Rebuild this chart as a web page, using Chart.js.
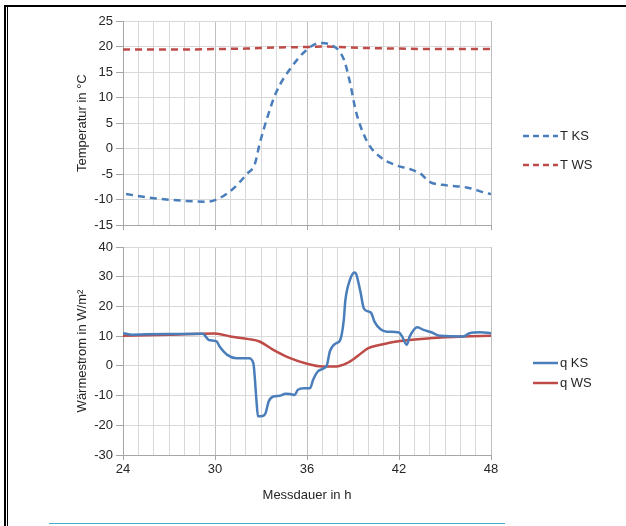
<!DOCTYPE html>
<html>
<head>
<meta charset="utf-8">
<script src="https://cdn.jsdelivr.net/npm/chart.js@4.4.0/dist/chart.umd.min.js"></script>
<style>
  body { margin: 0; background: #fff; }
  #wrap { position: relative; width: 626px; height: 526px; overflow: hidden; }
  #temp { position: absolute; left: 0; top: 0; }
  #flux { position: absolute; left: 0; top: 236px; }
  .frameTop { position: absolute; left: 4px; top: 5px; width: 622px; height: 2px; background: #000; }
  .frameL1 { position: absolute; left: 4px; top: 5px; width: 2px; height: 521px; background: #000; }
  .frameL2 { position: absolute; left: 7px; top: 7px; width: 1px; height: 519px; background: #000; }
  .teal { position: absolute; left: 49px; top: 523px; width: 456px; height: 1px; background: #4bacc6; }
</style>
</head>
<body>
<div id="wrap">
  <canvas id="temp" width="626" height="236"></canvas>
  <canvas id="flux" width="626" height="290"></canvas>
  <div class="frameTop"></div>
  <div class="frameL1"></div>
  <div class="frameL2"></div>
  <div class="teal"></div>
</div>
<script>
// Temperatur KS / WS
var tksHours = [24.2, 26, 27.9, 29.5, 30.3, 31.2, 32.1, 32.6, 32.9, 33.4, 34.0, 34.9, 36.0, 36.85, 37.5, 38.4, 38.8, 39.2, 39.9, 40.8, 41.85, 42.7, 43.4, 44.0, 45.1, 46.4, 47.7, 48];
var tksValues = [-8.9, -9.7, -10.2, -10.4, -9.7, -7.8, -4.9, -3.0, 0.8, 6.0, 11.1, 15.6, 19.4, 20.7, 20.4, 17.5, 13.0, 7.2, 1.5, -1.7, -3.3, -4.0, -4.9, -6.5, -7.2, -7.6, -8.7, -8.9];
var twsHours = [24, 28, 30, 32, 34, 36, 37, 38, 40, 42, 44, 48];
var twsValues = [19.4, 19.4, 19.5, 19.6, 19.8, 19.9, 20.0, 19.9, 19.7, 19.6, 19.5, 19.5];

// Waermestrom KS / WS
var qksHours = [24, 24.6, 25.5, 27, 29.2, 29.6, 30.1, 30.3, 30.8, 31.4, 32.2, 32.5, 32.7, 32.8, 33.15, 33.3, 33.5, 33.8, 34.2, 34.6, 34.9, 35.2, 35.4, 35.8, 36.2, 36.4, 36.7, 37.1, 37.3, 37.5, 37.9, 38.15, 38.4, 38.5, 38.8, 39.1, 39.2, 39.5, 39.7, 40.0, 40.2, 40.4, 40.8, 41.2, 42.0, 42.2, 42.5, 42.7, 43.2, 43.6, 44.1, 44.7, 46.2, 46.6, 47.3, 48];
var qksValues = [11.0, 10.5, 10.6, 10.7, 10.8, 8.7, 8.2, 6.5, 3.7, 2.6, 2.6, 0.9, -11.4, -17.0, -16.8, -15.9, -12.0, -10.3, -10.1, -9.4, -9.5, -9.8, -8.1, -7.5, -7.5, -4.7, -1.9, -0.8, 0.3, 5.0, 7.6, 8.5, 15.5, 22.0, 28.9, 31.4, 31.0, 24.5, 19.4, 18.3, 17.7, 14.9, 12.3, 11.5, 11.2, 9.9, 7.1, 9.9, 13.0, 12.1, 11.3, 10.1, 9.9, 11.0, 11.3, 11.0];
var qwsHours = [24, 27, 30, 31, 32.2, 32.9, 33.8, 34.9, 36, 37, 37.9, 38.6, 39.25, 40, 40.8, 41.85, 44, 46.2, 48];
var qwsValues = [10.1, 10.5, 10.9, 9.9, 9.0, 8.2, 5.4, 2.6, 0.7, -0.2, -0.2, 0.9, 3.1, 6.0, 7.1, 8.2, 9.3, 9.9, 10.1];

var xTickLabels = [24, 30, 36, 42, 48];

var blue = '#4a7ebb';
var red = '#be4b48';
var font = { family: 'Liberation Sans, Arial, sans-serif', size: 13 };
Chart.defaults.font = font;
Chart.defaults.color = '#262626';

function toPoints(xs, ys) {
    return xs.map(function (x, i) { return { x: x, y: ys[i] }; });
}

function xAxis(showLabels, height) {
    return {
        type: 'linear', min: 24, max: 48,
        border: { color: '#a6a6a6' },
        grid: {
            color: function (c) { return c.tick.value % 6 === 0 ? '#bfbfbf' : '#d9d9d9'; },
            tickColor: function (c) { return c.tick.value % 6 === 0 ? '#a6a6a6' : 'rgba(0,0,0,0)'; },
            tickLength: 5
        },
        ticks: {
            display: showLabels, stepSize: 1, autoSkip: false, maxRotation: 0, padding: 2,
            callback: function (v) { return xTickLabels.indexOf(v) >= 0 ? String(v) : ''; }
        },
        title: { display: showLabels, text: 'Messdauer in h', padding: { top: 4, bottom: 4 } },
        afterFit: function (s) { s.height = height; }
    };
}

function yAxis(min, max, step, title) {
    return {
        min: min, max: max,
        border: { color: '#a6a6a6' },
        grid: { color: '#d9d9d9', tickColor: '#a6a6a6', tickLength: 7 },
        ticks: { stepSize: step, padding: 3 },
        title: { display: true, text: title, padding: { top: 4, bottom: 4 } },
        afterFit: function (s) { s.width = 52; }
    };
}

// small legend drawn next to the plot
function legendPlugin(items) {
    return {
        id: 'sideLegend',
        afterDraw: function (chart) {
            var ctx = chart.ctx;
            ctx.save();
            items.forEach(function (it) {
                ctx.strokeStyle = it.color;
                ctx.lineWidth = 2.5;
                ctx.setLineDash(it.dash);
                ctx.beginPath();
                ctx.moveTo(it.x0, it.y);
                ctx.lineTo(it.x1, it.y);
                ctx.stroke();
                ctx.setLineDash([]);
                ctx.fillStyle = '#262626';
                ctx.font = '13px Liberation Sans, Arial, sans-serif';
                ctx.textBaseline = 'middle';
                ctx.fillText(it.text, it.x1 + 2, it.y);
            });
            ctx.restore();
        }
    };
}

new Chart(document.getElementById('temp'), {
    type: 'line',
    data: {
        datasets: [{
            label: 'T KS',
            data: toPoints(tksHours, tksValues),
            borderColor: blue, borderWidth: 2.5, borderDash: [7, 5],
            pointRadius: 0, tension: 0.4, cubicInterpolationMode: 'monotone'
        }, {
            label: 'T WS',
            data: toPoints(twsHours, twsValues),
            borderColor: red, borderWidth: 2.5, borderDash: [7, 5],
            pointRadius: 0, tension: 0.4, cubicInterpolationMode: 'monotone'
        }]
    },
    options: {
        responsive: false, animation: false,
        layout: { padding: { left: 71, right: 135, top: 21, bottom: 0 } },
        scales: {
            x: xAxis(false, 7),
            y: yAxis(-15, 25, 5, 'Temperatur in °C')
        },
        plugins: { legend: { display: false }, tooltip: { enabled: false } }
    },
    plugins: [legendPlugin([
        { text: 'T KS', color: blue, dash: [6, 4], x0: 523, x1: 558, y: 136 },
        { text: 'T WS', color: red, dash: [6, 4], x0: 523, x1: 558, y: 165 }
    ])]
});

new Chart(document.getElementById('flux'), {
    type: 'line',
    data: {
        datasets: [{
            label: 'q KS',
            data: toPoints(qksHours, qksValues),
            borderColor: blue, borderWidth: 2.5,
            pointRadius: 0, cubicInterpolationMode: 'monotone'
        }, {
            label: 'q WS',
            data: toPoints(qwsHours, qwsValues),
            borderColor: red, borderWidth: 2.5,
            pointRadius: 0, cubicInterpolationMode: 'monotone'
        }]
    },
    options: {
        responsive: false, animation: false,
        layout: { padding: { left: 71, right: 135, top: 11, bottom: 19 } },
        scales: {
            x: xAxis(true, 52),
            y: yAxis(-30, 40, 10, 'Wärmestrom in W/m²')
        },
        plugins: { legend: { display: false }, tooltip: { enabled: false } }
    },
    plugins: [legendPlugin([
        { text: 'q KS', color: blue, dash: [], x0: 533, x1: 558, y: 127 },
        { text: 'q WS', color: red, dash: [], x0: 533, x1: 558, y: 147 }
    ])]
});
</script>
</body>
</html>
